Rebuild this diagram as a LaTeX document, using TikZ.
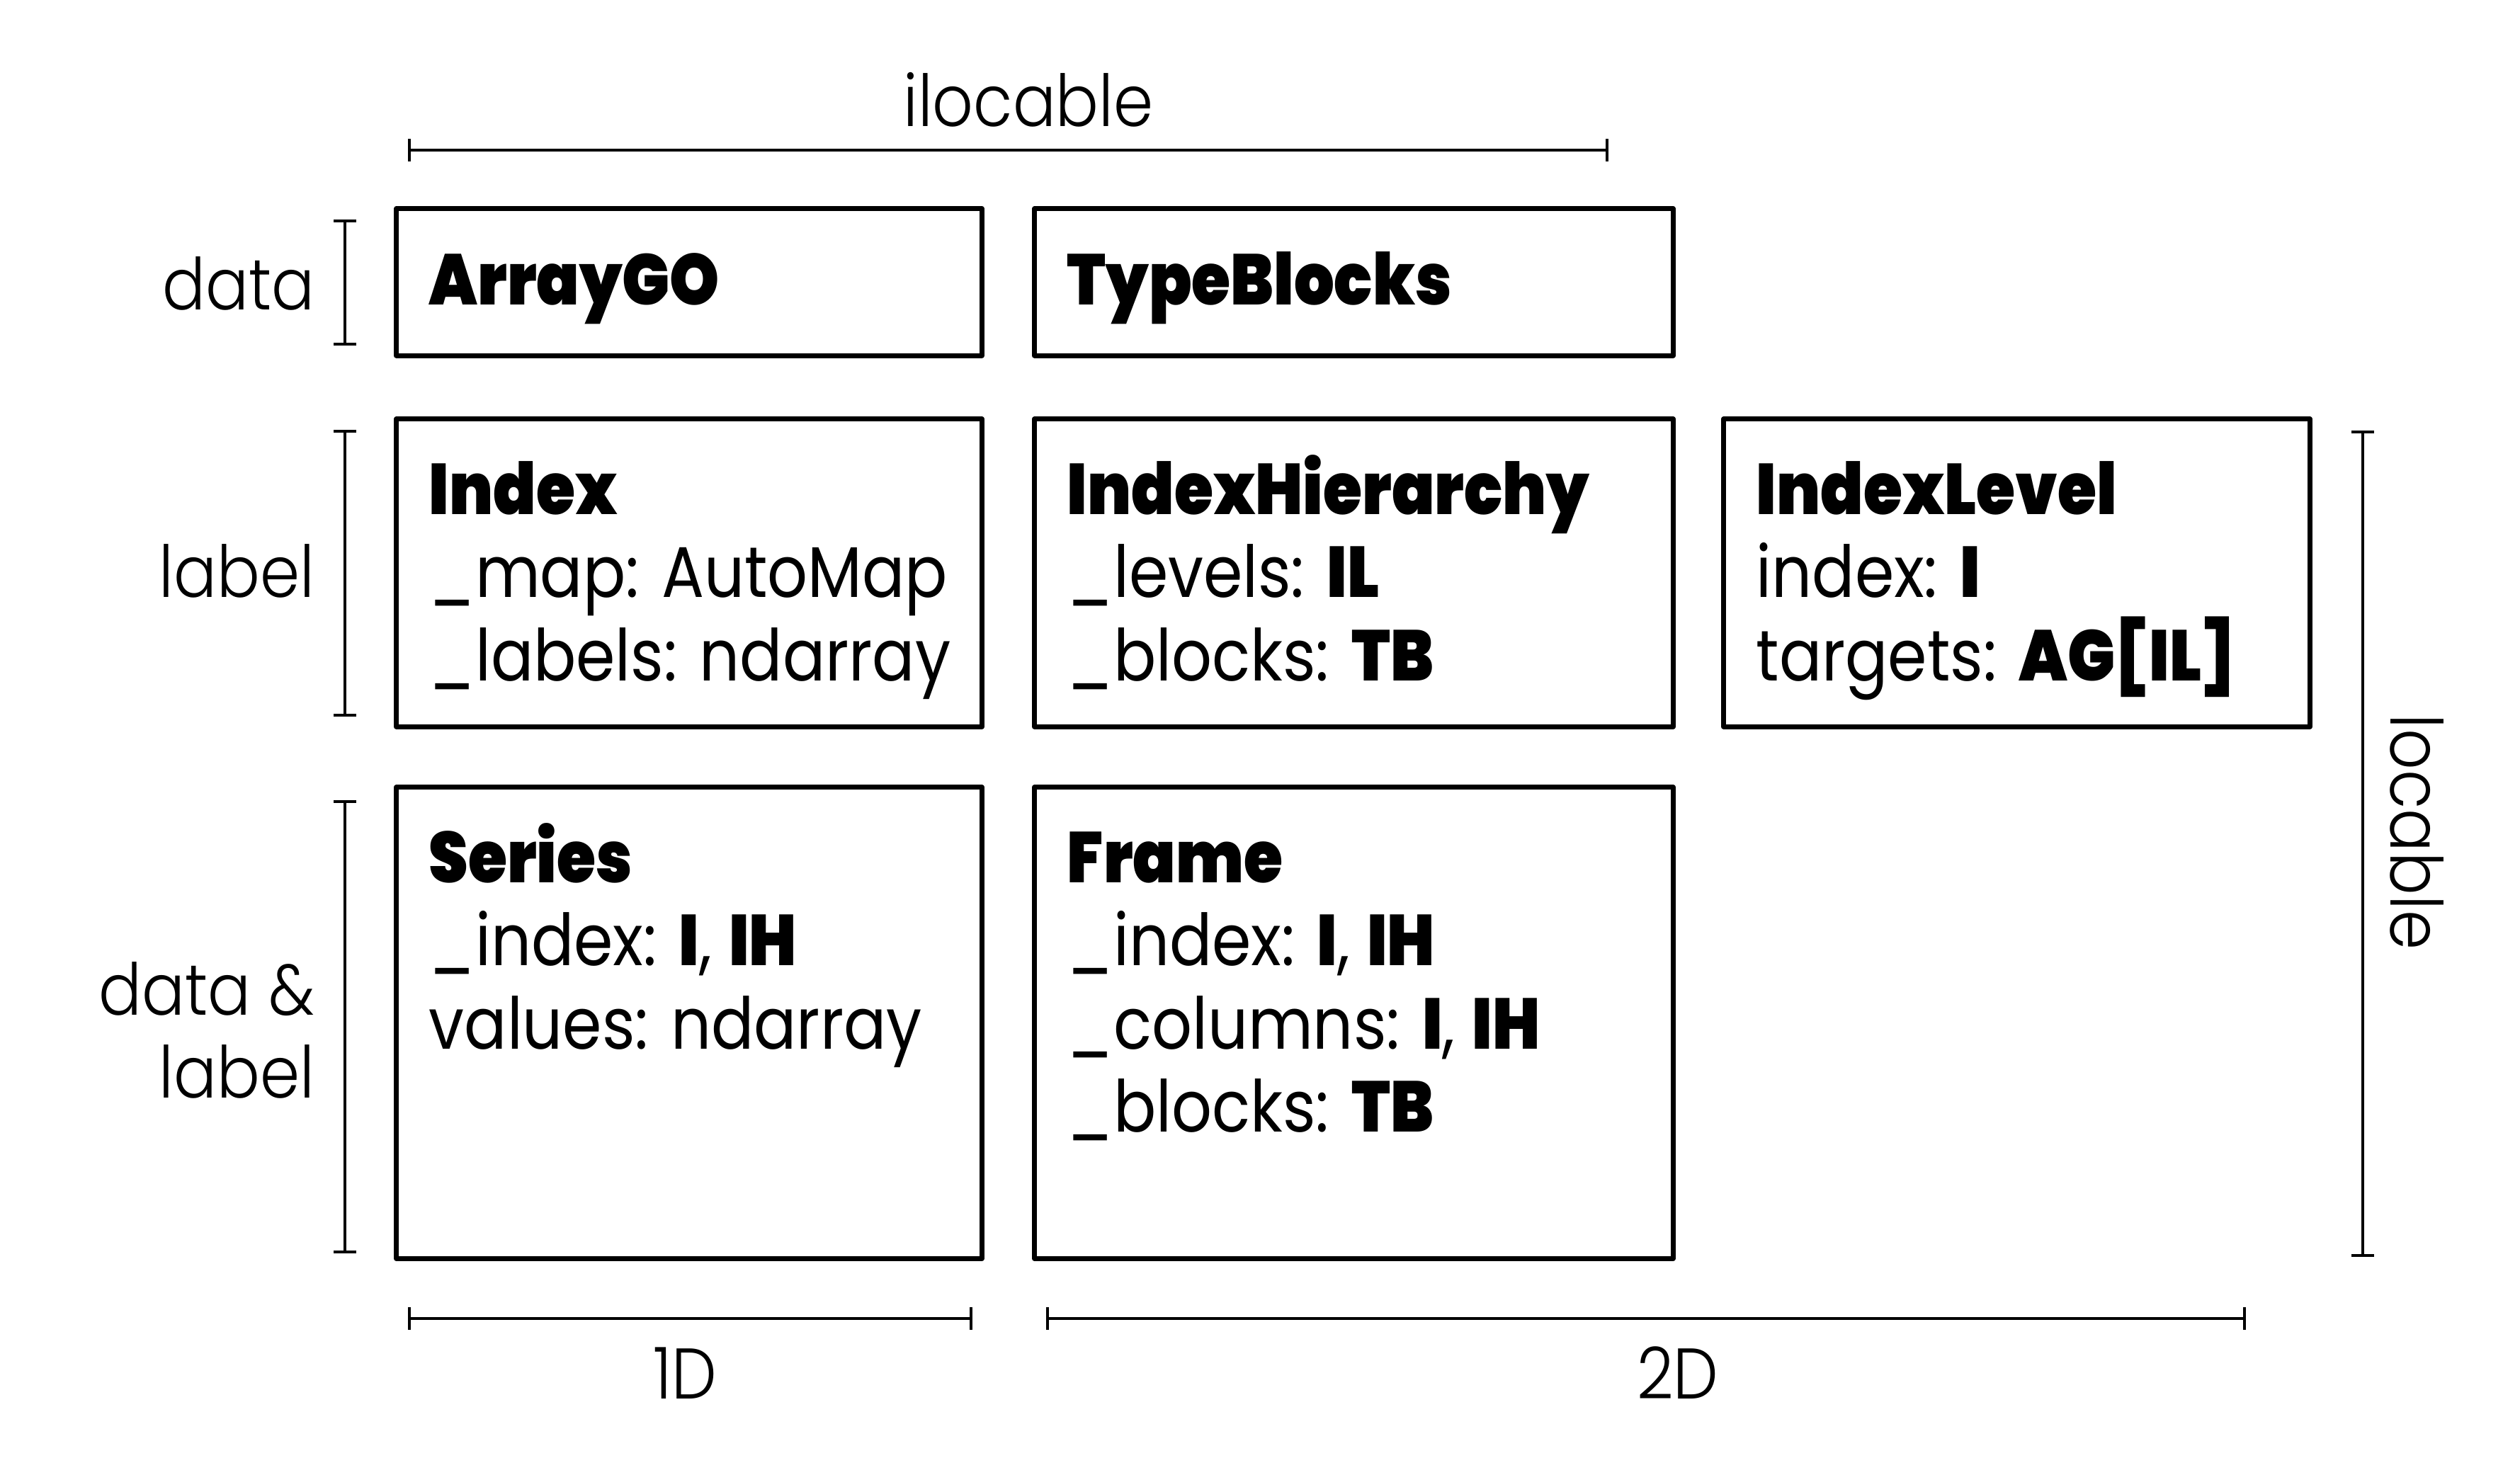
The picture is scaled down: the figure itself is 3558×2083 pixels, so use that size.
\documentclass[tikz,border=0pt]{standalone}
\usepackage{fontspec}
\IfFontExistsTF{Poppins Black}%
  {\setmainfont{Poppins}[BoldFont={Poppins Black}, FakeStretch=0.88]}%
  {\setmainfont{Poppins}[FakeStretch=0.88]}
\IfFontExistsTF{Poppins Light}%
  {\newfontfamily\thinfont{Poppins Light}[FakeStretch=0.89]}%
  {\newfontfamily\thinfont{Poppins}[FakeStretch=0.89]}
\usetikzlibrary{arrows.meta}
\begin{document}
\begin{tikzpicture}[x=0.01cm,y=-0.01cm,
  every node/.style={font=\fontsize{28.8}{33.3}\selectfont, inner sep=0pt, outer sep=0pt},
  box/.style={draw, line width=2pt, line join=round, rectangle},
  entry/.style={anchor=base west},
  axis/.style={font=\thinfont\fontsize{28.8}{33.3}\selectfont},
  side/.style={axis, anchor=east, align=right},
  span/.style={line width=1.1pt, {Bar[width=9pt,line width=1.1pt]}-{Bar[width=9pt,line width=1.1pt]}}]

\useasboundingbox (0,0) rectangle (3558,2083);

% class boxes
\node[box, minimum width=8.26cm, minimum height=2.07cm] (ag) at (973,398.5) {};
\node[box, minimum width=9.01cm, minimum height=2.07cm] (tb) at (1911.5,398.5) {};
\node[box, minimum width=8.26cm, minimum height=4.34cm] (ix) at (973,809) {};
\node[box, minimum width=9.01cm, minimum height=4.34cm] (ih) at (1911.5,809) {};
\node[box, minimum width=8.27cm, minimum height=4.34cm] (il) at (2847.5,809) {};
\node[box, minimum width=8.26cm, minimum height=6.65cm] (sr) at (973,1444.5) {};
\node[box, minimum width=9.01cm, minimum height=6.65cm] (fr) at (1911.5,1444.5) {};

% box contents
\node[entry] (agT) at ([shift={(46,136)}]ag.north west) {\textbf{ArrayGO}};
\node[entry] (tbT) at ([shift={(46,136)}]tb.north west) {\textbf{TypeBlocks}};
\node[entry] (ixT) at ([shift={(46,135)}]ix.north west)
  {\vtop{\hbox{\textbf{Index}}\hbox{\_map: AutoMap}\hbox{\_labels: ndarray}}};
\node[entry] (ihT) at ([shift={(46,135)}]ih.north west)
  {\vtop{\hbox{\textbf{IndexHierarchy}}\hbox{\_levels: \textbf{IL}}\hbox{\_blocks: \textbf{TB}}}};
\node[entry] (ilT) at ([shift={(46,135)}]il.north west)
  {\vtop{\hbox{\textbf{IndexLevel}}\hbox{index: \textbf{I}}\hbox{targets: \textbf{AG[IL]}}}};
\node[entry] (srT) at ([shift={(46,135)}]sr.north west)
  {\vtop{\hbox{\textbf{Series}}\hbox{\_index: \textbf{I}, \textbf{IH}}\hbox{values: ndarray}}};
\node[entry] (frT) at ([shift={(46,135)}]fr.north west)
  {\vtop{\hbox{\textbf{Frame}}\hbox{\_index: \textbf{I}, \textbf{IH}}\hbox{\_columns: \textbf{I}, \textbf{IH}}\hbox{\_blocks: \textbf{TB}}}};

% span markers
\coordinate (ilocA) at (576,212);   \coordinate (ilocB) at (2271,212);
\coordinate (dataA) at (487,310);   \coordinate (dataB) at (487,488);
\coordinate (lblA)  at (487,607);   \coordinate (lblB)  at (487,1012);
\coordinate (dlA)   at (487,1130);  \coordinate (dlB)   at (487,1770);
\coordinate (locA)  at (3336,608);  \coordinate (locB)  at (3336,1775);
\coordinate (oneA)  at (576,1862);  \coordinate (oneB)  at (1373,1862);
\coordinate (twoA)  at (1477,1862); \coordinate (twoB)  at (3171,1862);

\draw[span] (ilocA) -- (ilocB);
\draw[span] (dataA) -- (dataB);
\draw[span] (lblA) -- (lblB);
\draw[span] (dlA) -- (dlB);
\draw[span] (locA) -- (locB);
\draw[span] (oneA) -- (oneB);
\draw[span] (twoA) -- (twoB);

% span labels
\node[axis] (ilocL) at (1452,141) {ilocable};
\node[side] (dataL) at (444,400) {data};
\node[side] (lblL) at (444,806) {label};
\node[side] (dlL) at (444,1455) {data \&\\label};
\node[axis, rotate=-90] (locL) at (3413,1175) {locable};
\node[axis] (oneL) at (967,1939) {1D};
\node[axis] (twoL) at (2369,1939) {2D};
\end{tikzpicture}
\end{document}
